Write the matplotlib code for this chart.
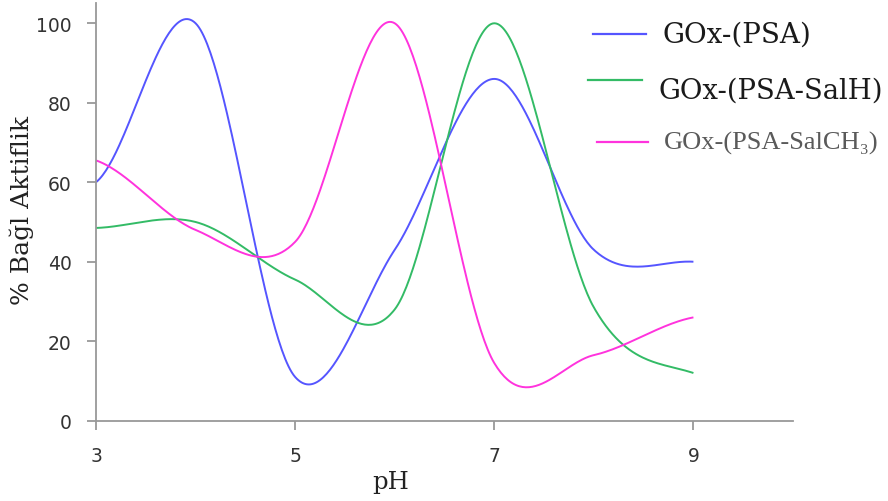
import numpy as np
import matplotlib
matplotlib.use("Agg")
import matplotlib.pyplot as plt
from matplotlib.lines import Line2D

# Measured relative activity (%) versus pH
ph = [3, 4, 5, 6, 7, 8, 9]
gox_psa = [60, 100, 11, 43, 86, 43, 40]
gox_psa_salh = [48.5, 50, 35.5, 28, 100, 28.5, 12]
gox_psa_salch3 = [65.5, 48, 45, 100, 14.5, 16.5, 26]

series_labels = ["GOx-(PSA)", "GOx-(PSA-SalH)", "GOx-(PSA-SalCH\u2083)"]
series_colors = ["#5555FF", "#33BB66", "#FF33DD"]
x_ticks = [3, 5, 7, 9]
y_ticks = [0, 20, 40, 60, 80, 100]


def smooth(x, y, n=60):
    """Cardinal (Catmull-Rom) spline through the points, like a smoothed line chart."""
    x = np.asarray(x, float)
    y = np.asarray(y, float)
    m = np.empty_like(y)
    m[1:-1] = (y[2:] - y[:-2]) / 2.0
    m[0] = (y[1] - y[0]) / 2.0
    m[-1] = (y[-1] - y[-2]) / 2.0
    xs, ys = [], []
    for i in range(len(x) - 1):
        t = np.linspace(0, 1, n, endpoint=(i == len(x) - 2))
        h00 = 2 * t**3 - 3 * t**2 + 1
        h10 = t**3 - 2 * t**2 + t
        h01 = -2 * t**3 + 3 * t**2
        h11 = t**3 - t**2
        ys.append(h00 * y[i] + h10 * m[i] + h01 * y[i + 1] + h11 * m[i + 1])
        xs.append(x[i] + t * (x[i + 1] - x[i]))
    return np.concatenate(xs), np.concatenate(ys)


W, H = 888, 502
fig = plt.figure(figsize=(W / 100, H / 100), dpi=100)
ax = fig.add_axes([96 / W, (H - 421.7) / H, 697 / W, 417.3 / H])

for vals, col in zip([gox_psa, gox_psa_salh, gox_psa_salch3], series_colors):
    sx, sy = smooth(ph, vals)
    ax.plot(sx, sy, color=col, lw=1.4, solid_capstyle="butt")

ax.set_xlim(3, 10)
ax.set_ylim(0, 105)
ax.set_xticks(x_ticks)
ax.set_yticks(y_ticks)
for s in ["top", "right"]:
    ax.spines[s].set_visible(False)
for s in ["left", "bottom"]:
    ax.spines[s].set_color("#999999")
    ax.spines[s].set_linewidth(1.3)
ax.tick_params(axis="both", colors="#999999", length=6.5, width=1.3,
               labelcolor="#333333", labelsize=13.5)
ax.tick_params(axis="y", pad=11)
ax.tick_params(axis="x", pad=12)

fig.text(22 / W, 1 - 210 / H, "% Bağl Aktiflik", rotation=90, ha="center",
         va="center", family="DejaVu Serif", fontsize=18, color="#222222")
fig.text(391 / W, 1 - 483 / H, "pH", ha="center", va="center",
         family="DejaVu Serif", fontsize=17.5, color="#222222")

# Key on the right-hand side
key = [
    ((593, 646), 34.5, (662, 35), dict(family="DejaVu Serif", fontsize=20, color="#1a1a1a")),
    ((588, 642), 81, (658, 91), dict(family="DejaVu Serif", fontsize=19.8, color="#1a1a1a")),
    ((597, 648), 143, (664, 143), dict(family=["Liberation Serif", "DejaVu Serif"],
                                       fontsize=19, color="#5a5a5a")),
]
for ((x0, x1), ly, (tx, ty), style), lab, col in zip(key, series_labels, series_colors):
    fig.add_artist(Line2D([x0 / W, x1 / W], [1 - ly / H, 1 - ly / H],
                          color=col, lw=1.6, transform=fig.transFigure))
    fig.text(tx / W, 1 - ty / H, lab, ha="left", va="center", **style)

fig.savefig("out.png", dpi=100)
